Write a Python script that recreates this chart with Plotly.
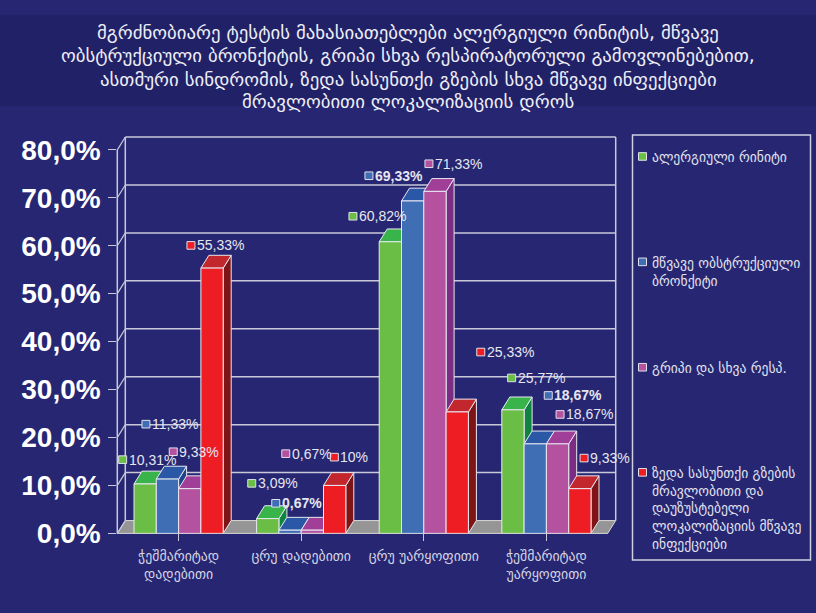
import plotly.graph_objects as go

# ---------------- data ----------------
categories = ["ჭეშმარიტად<br>დადებითი", "ცრუ დადებითი", "ცრუ უარყოფითი", "ჭეშმარიტად<br>უარყოფითი"]

series_names = [
    "ალერგიული რინიტი",
    "მწვავე ობსტრუქციული<br>ბრონქიტი",
    "გრიპი და სხვა რესპ.",
    "ზედა სასუნთქი გზების<br>მრავლობითი და<br>დაუზუსტებელი<br>ლოკალიზაციის მწვავე<br>ინფექციები",
]

green_vals = [10.31, 3.09, 60.82, 25.77]
blue_vals = [11.33, 0.67, 69.33, 18.67]
pink_vals = [9.33, 0.67, 71.33, 18.67]
red_vals = [55.33, 10.0, 25.33, 9.33]

green_labels = ["10,31%", "3,09%", "60,82%", "25,77%"]
blue_labels = ["11,33%", "0,67%", "69,33%", "18,67%"]
pink_labels = ["9,33%", "0,67%", "71,33%", "18,67%"]
red_labels = ["55,33%", "10%", "25,33%", "9,33%"]

y_tick_vals = [0, 10, 20, 30, 40, 50, 60, 70, 80]
y_tick_text = ["0,0%", "10,0%", "20,0%", "30,0%", "40,0%", "50,0%", "60,0%", "70,0%", "80,0%"]

title_lines = [
    "მგრძნობიარე ტესტის მახასიათებლები ალერგიული რინიტის, მწვავე",
    "ობსტრუქციული ბრონქიტის, გრიპი სხვა რესპირატორული გამოვლინებებით,",
    "ასთმური სინდრომის, ზედა სასუნთქი გზების სხვა მწვავე ინფექციები",
    "მრავლობითი ლოკალიზაციის დროს",
]

# ---------------- styles / geometry ----------------
W, H = 816, 613
X_LEFT, X_RIGHT = 117.3, 607.7      # front x-axis extent (px)
Y_ZERO, Y_TOP = 546.0, 142.0        # front face 0% and 80% (px)
DX, DY = 8.0, 13.5                  # 3D depth offset (px right, px up)
PXX = (X_RIGHT - X_LEFT) / 4.0      # px per category unit
PXY = (Y_ZERO - Y_TOP) / 80.0       # px per percent
BARGAP = 0.2725

BG = "#262672"
TITLE_BG = "#212168"
LINE = "#C9C9DA"
GEO_FONT = "DejaVu Sans"
NUM_FONT = "Liberation Sans"

front_cols = ["#6BBE45", "#3F6EB5", "#B5529F", "#EE1D24"]
top_cols = ["#38B44A", "#2B58A6", "#A13E97", "#C1272D"]
side_cols = ["#0E8440", "#1E4489", "#7B2D83", "#7F1416"]

all_vals = [green_vals, blue_vals, pink_vals, red_vals]
all_labels = [green_labels, blue_labels, pink_labels, red_labels]
bold_flags = [
    [False, False, False, False],
    [False, True, True, True],
    [False, False, False, False],
    [False, False, False, False],
]
# label square offsets (px) from bar front-top centre: (dx right, dy down)
label_offsets = [
    [(-22.5, -25.6), (-16.0, -37.1), (-37.4, -26.9), (-1.3, -33.6)],
    [(-21.5, -57.8), (-14.3, -28.3), (-43.7, -26.6), (13.0, -51.0)],
    [(-16.5, -38.9), (-26.6, -80.6), (-6.0, -29.1), (2.5, -31.0)],
    [(-21.1, -23.9), (-0.3, -29.8), (23.5, -63.1), (4.2, -32.2)],
]
legend_y = [149, 260, 371, 481.7]


def px(x):
    return x / W


def py(y):
    return 1 - y / H


def ypx(v):
    return Y_ZERO - v * PXY


fig = go.Figure()
for j, vals in enumerate(all_vals):
    fig.add_trace(go.Bar(
        x=list(range(len(categories))), y=vals, name=series_names[j],
        marker=dict(color=front_cols[j], line=dict(color="#E8E8F2", width=1)),
        showlegend=False, hoverinfo="skip",
    ))

shapes = []
annotations = []

# title band
shapes.append(dict(type="rect", xref="paper", yref="paper", x0=0, x1=1, y0=py(96), y1=1,
                   fillcolor=TITLE_BG, line=dict(width=0), layer="below"))

# floor
floor_path = "M{},{} L{},{} L{},{} L{},{} Z".format(
    px(X_LEFT), py(Y_ZERO), px(X_RIGHT), py(Y_ZERO),
    px(X_RIGHT + DX), py(Y_ZERO - DY), px(X_LEFT + DX), py(Y_ZERO - DY))
shapes.append(dict(type="path", xref="paper", yref="paper", path=floor_path,
                   fillcolor="#959595", line=dict(color="#D8D8D8", width=1), layer="below"))

# back wall gridlines and frame
for v in y_tick_vals[1:]:
    shapes.append(dict(type="line", xref="paper", yref="paper",
                       x0=px(X_LEFT + DX), x1=px(X_RIGHT + DX),
                       y0=py(ypx(v) - DY), y1=py(ypx(v) - DY),
                       line=dict(color=LINE, width=1.5), layer="below"))
for xx in (X_LEFT + DX, X_RIGHT + DX):
    shapes.append(dict(type="line", xref="paper", yref="paper", x0=px(xx), x1=px(xx),
                       y0=py(Y_ZERO - DY), y1=py(Y_TOP - DY),
                       line=dict(color=LINE, width=1.5), layer="below"))
# front axis line + diagonal connectors
shapes.append(dict(type="line", xref="paper", yref="paper", x0=px(X_LEFT), x1=px(X_LEFT),
                   y0=py(Y_ZERO), y1=py(Y_TOP), line=dict(color=LINE, width=1.5), layer="below"))
for v in y_tick_vals:
    shapes.append(dict(type="line", xref="paper", yref="paper",
                       x0=px(X_LEFT), x1=px(X_LEFT + DX),
                       y0=py(ypx(v)), y1=py(ypx(v) - DY),
                       line=dict(color=LINE, width=1.2), layer="below"))

# 3D faces (below the bar traces so front faces occlude correctly)
ddx = DX / PXX
ddy = DY / PXY
grp = 1 - BARGAP
bw = grp / 4
for i in range(len(categories)):
    for j, vals in enumerate(all_vals):
        v = vals[i]
        xl = i - grp / 2 + bw * j
        xr = xl + bw
        side = "M{},{} L{},{} L{},{} L{},{} Z".format(xr, 0, xr, v, xr + ddx, v + ddy, xr + ddx, ddy)
        top = "M{},{} L{},{} L{},{} L{},{} Z".format(xl, v, xr, v, xr + ddx, v + ddy, xl + ddx, v + ddy)
        shapes.append(dict(type="path", xref="x", yref="y", path=side, fillcolor=side_cols[j],
                           line=dict(color="#E8E8F2", width=1), layer="below"))
        shapes.append(dict(type="path", xref="x", yref="y", path=top, fillcolor=top_cols[j],
                           line=dict(color="#E8E8F2", width=1), layer="below"))

# value labels with colour keys
for j, vals in enumerate(all_vals):
    for i, v in enumerate(vals):
        xc = i - grp / 2 + bw * (j + 0.5)
        dx, dy = label_offsets[j][i]
        sx = xc + dx / PXX
        sy = v - dy / PXY
        shapes.append(dict(type="rect", xref="x", yref="y",
                           x0=sx - 4 / PXX, x1=sx + 4 / PXX, y0=sy - 4 / PXY, y1=sy + 4 / PXY,
                           fillcolor=front_cols[j], line=dict(color="#E0E0EA", width=1), layer="above"))
        txt = all_labels[j][i]
        if bold_flags[j][i]:
            txt = "<b>" + txt + "</b>"
        annotations.append(dict(x=sx, y=sy, xref="x", yref="y", text=txt, showarrow=False,
                                xanchor="left", yanchor="middle", xshift=4,
                                font=dict(family=NUM_FONT, size=14, color="#E6E6F0")))

# legend box
shapes.append(dict(type="rect", xref="paper", yref="paper", x0=px(632.5), x1=px(810.5),
                   y0=py(574), y1=py(126.5), line=dict(color="#D0D0E0", width=1.5),
                   fillcolor="rgba(0,0,0,0)", layer="above"))
for j, name in enumerate(series_names):
    yy = legend_y[j]
    shapes.append(dict(type="rect", xref="paper", yref="paper",
                       x0=px(638.5), x1=px(646.5), y0=py(yy + 4), y1=py(yy - 4),
                       fillcolor=front_cols[j], line=dict(color="#E0E0EA", width=1), layer="above"))
    annotations.append(dict(x=px(650), y=py(yy - 9.5), xref="paper", yref="paper", text=name,
                            showarrow=False, xanchor="left", yanchor="top", align="left",
                            font=dict(family=GEO_FONT, size=13.6, color="#E2E2EE")))

# title
for k, (line, yc) in enumerate(zip(title_lines, [18, 43, 67.5, 91])):
    annotations.append(dict(x=0.5, y=py(yc), xref="paper", yref="paper", text=line,
                            showarrow=False, xanchor="center", yanchor="middle",
                            font=dict(family=GEO_FONT, size=18.8, color="#EEEEF6")))

fig.update_layout(
    width=W, height=H,
    margin=dict(l=0, r=0, t=0, b=0),
    paper_bgcolor=BG, plot_bgcolor="rgba(0,0,0,0)",
    barmode="group", bargap=BARGAP, bargroupgap=0,
    shapes=shapes, annotations=annotations,
    showlegend=False,
    xaxis=dict(
        domain=[px(X_LEFT), px(X_RIGHT)], range=[-0.5, 3.5],
        tickmode="array", tickvals=list(range(len(categories))), ticktext=categories,
        tickson="boundaries", ticks="outside", ticklen=7, tickcolor=LINE, tickwidth=1.2,
        showline=False, showgrid=False, zeroline=False,
        tickfont=dict(family=GEO_FONT, size=13.8, color="#D4D4E4"),
        ticklabelstandoff=3,
    ),
    yaxis=dict(
        domain=[py(Y_ZERO), py(Y_TOP)], range=[0, 80],
        tickmode="array", tickvals=y_tick_vals, ticktext=y_tick_text,
        ticks="outside", ticklen=8, tickcolor=LINE, tickwidth=1.2,
        showline=False, showgrid=False, zeroline=False,
        tickfont=dict(family=NUM_FONT, size=28, color="#FFFFFF", weight="bold"),
        ticklabelstandoff=2,
    ),
)

fig.write_html("out.html")
